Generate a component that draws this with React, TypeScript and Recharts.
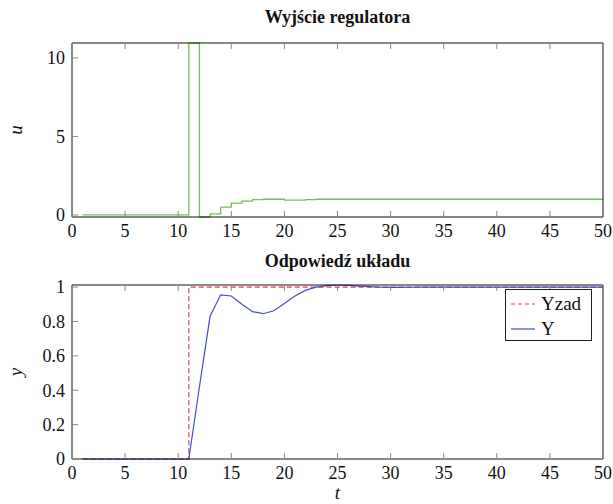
import React from 'react';
import { LineChart, Line, XAxis, YAxis, Legend } from 'recharts';

const timeSteps = [
  1, 2, 3, 4, 5, 6, 7, 8, 9, 10,
  11, 12, 13, 14, 15, 16, 17, 18, 19, 20,
  21, 22, 23, 24, 25, 26, 27, 28, 29, 30,
  31, 32, 33, 34, 35, 36, 37, 38, 39, 40,
  41, 42, 43, 44, 45, 46, 47, 48, 49, 50,
];

const uValues = [
  0, 0, 0, 0, 0, 0, 0, 0, 0, 0,
  10.95, -0.13, 0.07, 0.5, 0.75, 0.88, 0.98, 1.0, 1.0, 0.94,
  0.94, 0.98, 1.0, 1.0, 1.0, 1.0, 1.0, 1.0, 1.0, 1.0,
  1.0, 1.0, 1.0, 1.0, 1.0, 1.0, 1.0, 1.0, 1.0, 1.0,
  1.0, 1.0, 1.0, 1.0, 1.0, 1.0, 1.0, 1.0, 1.0, 1.0,
];

const yzadValues = [
  0, 0, 0, 0, 0, 0, 0, 0, 0, 0,
  1, 1, 1, 1, 1, 1, 1, 1, 1, 1,
  1, 1, 1, 1, 1, 1, 1, 1, 1, 1,
  1, 1, 1, 1, 1, 1, 1, 1, 1, 1,
  1, 1, 1, 1, 1, 1, 1, 1, 1, 1,
];

const yValues = [
  0, 0, 0, 0, 0, 0, 0, 0, 0, 0,
  0, 0.42, 0.83, 0.955, 0.948, 0.9, 0.857, 0.845, 0.862, 0.905,
  0.948, 0.982, 1.0, 1.008, 1.012, 1.01, 1.006, 1.002, 0.999, 0.998,
  0.998, 0.999, 1.0, 1.0, 1.0, 1.0, 1.0, 1.0, 1.0, 1.0,
  1.0, 1.0, 1.0, 1.0, 1.0, 1.0, 1.0, 1.0, 1.0, 1.0,
];

const xTicks = [0, 5, 10, 15, 20, 25, 30, 35, 40, 45, 50];
const uTicks = [0, 5, 10];
const yTicks = [0, 0.2, 0.4, 0.6, 0.8, 1];
const uDomain = [-0.13, 10.95];
const yDomain = [0, 1.012];
const legendOrder = ['Yzad', 'Y'];

const topTitle = 'Wyjście regulatora';
const bottomTitle = 'Odpowiedź układu';

const topData = timeSteps.map((t, i) => ({ t, u: uValues[i] }));
const bottomData = timeSteps.map((t, i) => ({ t, yzad: yzadValues[i], y: yValues[i] }));

const FONT = '"Liberation Serif", serif';
const TICK_COLOR = '#8a8a8a';
const TICK_LEN = 6;

const BottomTick = (props: any) => {
  const { x, y, payload } = props;
  return (
    <g>
      <line x1={x} x2={x} y1={y} y2={y - TICK_LEN} stroke={TICK_COLOR} strokeWidth={1} />
      <text x={x} y={y + 20} textAnchor="middle" fontFamily="Liberation Serif" fontSize={18} fill="#111">
        {String(payload.value)}
      </text>
    </g>
  );
};

const TopTick = (props: any) => {
  const { x, y } = props;
  return <line x1={x} x2={x} y1={y} y2={y + TICK_LEN} stroke={TICK_COLOR} strokeWidth={1} />;
};

const LeftTick = (props: any) => {
  const { x, y, payload } = props;
  return (
    <g>
      <line x1={x} x2={x + TICK_LEN} y1={y} y2={y} stroke={TICK_COLOR} strokeWidth={1} />
      <text x={x - 7} y={y} dy="0.35em" textAnchor="end" fontFamily="Liberation Serif" fontSize={18} fill="#111">
        {String(payload.value)}
      </text>
    </g>
  );
};

const RightTick = (props: any) => {
  const { x, y } = props;
  return <line x1={x} x2={x - TICK_LEN} y1={y} y2={y} stroke={TICK_COLOR} strokeWidth={1} />;
};

const renderLegend = (props: any) => {
  const payload = [...(props.payload || [])].sort(
    (a: any, b: any) => legendOrder.indexOf(a.value) - legendOrder.indexOf(b.value)
  );
  return (
    <div
      style={{
        boxSizing: 'border-box',
        width: 87,
        height: 52,
        border: '1px solid #222',
        background: '#fff',
        paddingTop: 1,
        fontFamily: FONT,
        fontSize: 19,
        color: '#111',
      }}
    >
      {payload.map((e: any) => (
        <div key={e.value} style={{ display: 'flex', alignItems: 'center', height: 25, lineHeight: '25px' }}>
          <svg width={30} height={10} style={{ marginLeft: 5, display: 'block' }}>
            <line
              x1={0}
              x2={24}
              y1={5}
              y2={5}
              stroke={e.color}
              strokeWidth={1.2}
              strokeDasharray={e.payload && e.payload.strokeDasharray ? '4 3' : undefined}
            />
          </svg>
          <span>{e.value}</span>
        </div>
      ))}
    </div>
  );
};

const divText = (text: string, left: number, top: number, extra: any) => (
  <div
    style={{
      position: 'absolute',
      left,
      top,
      transform: 'translate(-50%, -50%)',
      whiteSpace: 'nowrap',
      fontFamily: FONT,
      color: '#111',
      lineHeight: 1,
      ...extra,
    }}
  >
    {text}
  </div>
);

export default function App() {
  return (
    <div style={{ position: 'fixed', left: 0, top: 0, width: 613, height: 504, background: '#fff' }}>
      <div style={{ position: 'absolute', left: 0, top: 0 }}>
        <LineChart width={613} height={250} data={topData} margin={{ top: 42, right: 0, bottom: 0, left: 0 }}>
          <XAxis
            xAxisId="b"
            dataKey="t"
            type="number"
            domain={[0, 50]}
            ticks={xTicks}
            interval={0}
            height={33}
            tickSize={0}
            tickMargin={0}
            tick={<BottomTick />}
            tickLine={false}
            axisLine={{ stroke: '#111', strokeWidth: 1 }}
          />
          <XAxis
            xAxisId="t"
            orientation="top"
            dataKey="t"
            type="number"
            domain={[0, 50]}
            ticks={xTicks}
            interval={0}
            height={1}
            tickSize={0}
            tickMargin={0}
            tick={<TopTick />}
            tickLine={false}
            axisLine={{ stroke: '#111', strokeWidth: 1 }}
          />
          <YAxis
            yAxisId="l"
            type="number"
            domain={uDomain}
            ticks={uTicks}
            interval={0}
            width={72}
            tickSize={0}
            tickMargin={0}
            tick={<LeftTick />}
            tickLine={false}
            axisLine={{ stroke: '#111', strokeWidth: 1 }}
          />
          <YAxis
            yAxisId="r"
            orientation="right"
            type="number"
            domain={uDomain}
            ticks={uTicks}
            interval={0}
            width={10}
            tickSize={0}
            tickMargin={0}
            tick={<RightTick />}
            tickLine={false}
            axisLine={{ stroke: '#111', strokeWidth: 1 }}
          />
          <Line
            xAxisId="b"
            yAxisId="l"
            type="stepAfter"
            dataKey="u"
            stroke="#6cc25a"
            strokeWidth={1.3}
            dot={false}
            isAnimationActive={false}
          />
        </LineChart>
      </div>
      <div style={{ position: 'absolute', left: 0, top: 250 }}>
        <LineChart width={613} height={254} data={bottomData} margin={{ top: 34, right: 0, bottom: 0, left: 0 }}>
          <XAxis
            xAxisId="b"
            dataKey="t"
            type="number"
            domain={[0, 50]}
            ticks={xTicks}
            interval={0}
            height={45}
            tickSize={0}
            tickMargin={0}
            tick={<BottomTick />}
            tickLine={false}
            axisLine={{ stroke: '#111', strokeWidth: 1 }}
          />
          <XAxis
            xAxisId="t"
            orientation="top"
            dataKey="t"
            type="number"
            domain={[0, 50]}
            ticks={xTicks}
            interval={0}
            height={1}
            tickSize={0}
            tickMargin={0}
            tick={<TopTick />}
            tickLine={false}
            axisLine={{ stroke: '#111', strokeWidth: 1 }}
          />
          <YAxis
            yAxisId="l"
            type="number"
            domain={yDomain}
            ticks={yTicks}
            interval={0}
            width={72}
            tickSize={0}
            tickMargin={0}
            tick={<LeftTick />}
            tickLine={false}
            axisLine={{ stroke: '#111', strokeWidth: 1 }}
          />
          <YAxis
            yAxisId="r"
            orientation="right"
            type="number"
            domain={yDomain}
            ticks={yTicks}
            interval={0}
            width={10}
            tickSize={0}
            tickMargin={0}
            tick={<RightTick />}
            tickLine={false}
            axisLine={{ stroke: '#111', strokeWidth: 1 }}
          />
          <Legend
            layout="vertical"
            align="center"
            verticalAlign="middle"
            content={renderLegend}
            wrapperStyle={{ left: 505, top: 39, width: 87, height: 52 }}
          />
          <Line
            xAxisId="b"
            yAxisId="l"
            name="Yzad"
            type="stepAfter"
            dataKey="yzad"
            stroke="#e8404a"
            strokeWidth={1.2}
            strokeDasharray="5 3"
            dot={false}
            isAnimationActive={false}
          />
          <Line
            xAxisId="b"
            yAxisId="l"
            name="Y"
            type="linear"
            dataKey="y"
            stroke="#4050c4"
            strokeWidth={1.2}
            dot={false}
            isAnimationActive={false}
          />
        </LineChart>
      </div>
      {divText(topTitle, 337.5, 17, { fontSize: 18, fontWeight: 'bold' })}
      {divText(bottomTitle, 337.5, 261, { fontSize: 18, fontWeight: 'bold' })}
      {divText('u', 15, 130, { fontSize: 19, fontStyle: 'italic', transform: 'translate(-50%, -50%) rotate(-90deg)' })}
      {divText('y', 15, 372, { fontSize: 19, fontStyle: 'italic', transform: 'translate(-50%, -50%) rotate(-90deg)' })}
      {divText('t', 337.5, 492, { fontSize: 19, fontStyle: 'italic' })}
    </div>
  );
}
